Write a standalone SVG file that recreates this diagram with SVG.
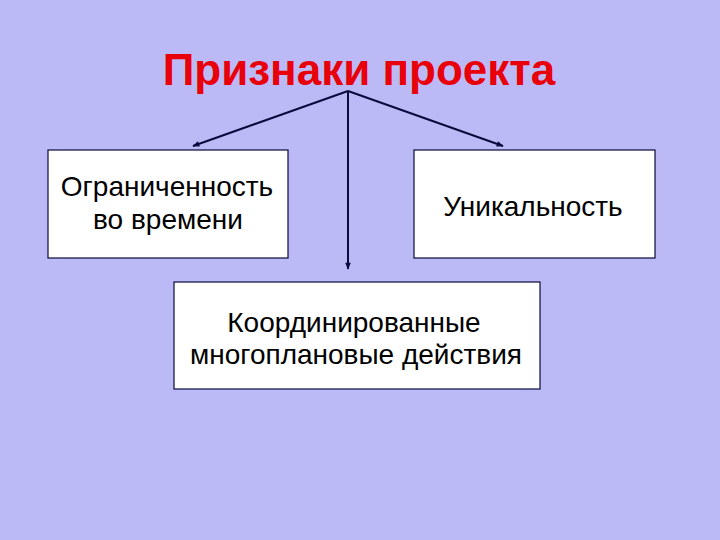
<svg xmlns="http://www.w3.org/2000/svg" width="720" height="540" viewBox="0 0 720 540">
<defs>
<marker id="ah" viewBox="0 0 10 10" refX="9" refY="5" markerWidth="8" markerHeight="7" orient="auto" markerUnits="userSpaceOnUse">
<path d="M0,1 L10,5 L0,9 z" fill="#0A0A3C"/>
</marker>
<style>
.box{fill:#FFFFFF;stroke:#0A0A3C;stroke-width:1.2}
.t{font-family:"Liberation Sans",Arial,sans-serif;font-size:28px;fill:#000;text-anchor:middle}
.c{stroke:#0A0A3C;stroke-width:2;fill:none;marker-end:url(#ah)}
</style>
</defs>
<rect width="720" height="540" fill="#BCBAF6"/>
<text x="359" y="85" font-family="'Liberation Sans',Arial,sans-serif" font-size="44" font-weight="bold" fill="#E8000B" text-anchor="middle">Признаки проекта</text>
<g id="connectors">
<line class="c" x1="348" y1="91" x2="193" y2="146"/>
<line class="c" x1="348" y1="91" x2="503" y2="146"/>
<line class="c" x1="348" y1="91" x2="348" y2="269"/>
</g>
<g id="node-time">
<rect class="box" x="48" y="150" width="240" height="108"/>
<text class="t" x="167" y="196">Ограниченность</text>
<text class="t" x="168" y="229">во времени</text>
</g>
<g id="node-unique">
<rect class="box" x="414" y="150" width="241" height="108"/>
<text class="t" x="533" y="216">Уникальность</text>
</g>
<g id="node-coord">
<rect class="box" x="174" y="282" width="366" height="107"/>
<text class="t" x="354" y="332">Координированные</text>
<text class="t" x="356" y="364">многоплановые действия</text>
</g>
</svg>
